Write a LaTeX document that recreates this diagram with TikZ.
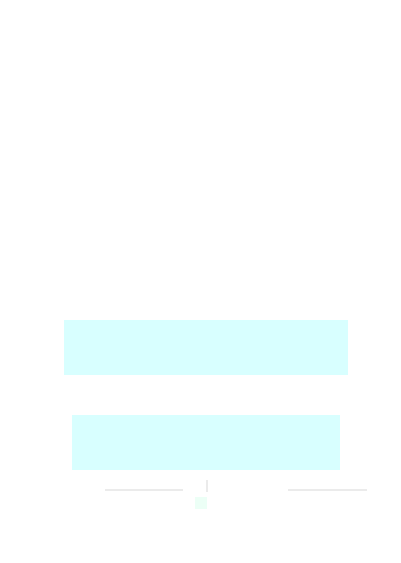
\documentclass[tikz,border=0pt]{standalone}
\usepackage{tikz}
\usetikzlibrary{positioning,calc}
\usepackage{xcolor}
\definecolor{BoxCyan}{HTML}{D8FFFF}
\definecolor{MarkMint}{HTML}{ECFFF6}
\definecolor{LineGray}{HTML}{EBEBEB}

\begin{document}
\begin{tikzpicture}[x=0.025cm,y=-0.025cm,
    panel/.style={fill=BoxCyan,draw=none,inner sep=0pt},
    rule/.style={LineGray,line width=1.2pt}]
    \useasboundingbox (0,0) rectangle (400,563);

    \node[panel,minimum width=7.1cm,minimum height=1.375cm] (upper) at (206,347.5) {};
    \node[panel,minimum width=6.7cm,minimum height=1.375cm] (lower) at (206,442.5) {};

    \coordinate (stemtop) at (207,480);
    \coordinate (stembot) at (207,492);
    \coordinate (la) at (105,490);
    \coordinate (lb) at (183,490);
    \coordinate (ra) at (288,490);
    \coordinate (rb) at (367,490);

    \draw[rule] (stemtop) -- (stembot);
    \draw[rule] (la) -- (lb);
    \draw[rule] (ra) -- (rb);

    \node[fill=MarkMint,minimum size=0.3cm,inner sep=0pt] (mark) at (201,503) {};
   \end{tikzpicture}
\end{document}
